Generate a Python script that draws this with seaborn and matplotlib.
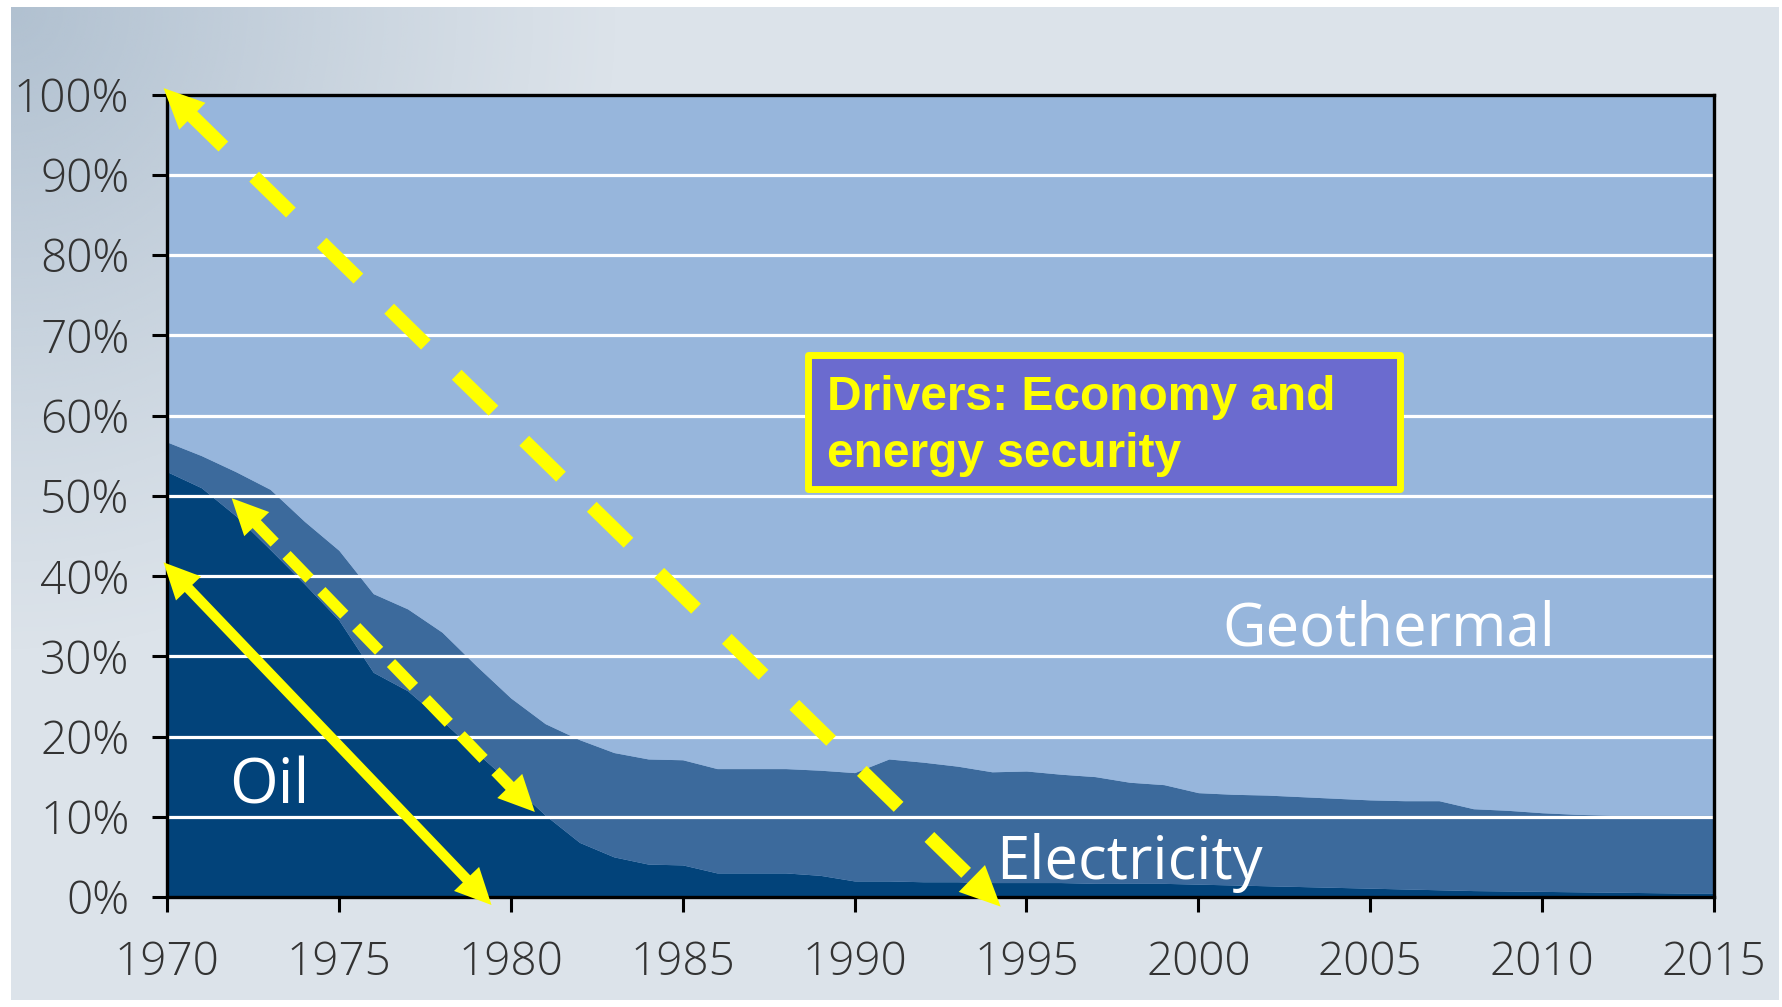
import numpy as np
import pandas as pd
import seaborn as sns
import matplotlib.pyplot as plt
from matplotlib.patches import Rectangle, FancyArrowPatch

# -------------------------------
# DATA (share of heating, %)
# -------------------------------
years = list(range(1970, 2016))
oil = [53, 51, 47.5, 43.3, 39, 34.5, 28, 25.7, 22, 18,
       14.2, 10.2, 6.8, 5, 4.1, 4.0, 3.0, 3.0, 3.0, 2.7,
       2.0, 2.0, 1.9, 1.9, 1.8, 1.8, 1.8, 1.7, 1.7, 1.7,
       1.6, 1.5, 1.4, 1.3, 1.2, 1.1, 1.0, 0.9, 0.8, 0.75,
       0.7, 0.65, 0.6, 0.55, 0.5, 0.5]
electricity = [3.7, 4.0, 5.5, 7.5, 7.8, 8.7, 9.8, 10.2, 11.0, 10.8,
               10.6, 11.4, 12.8, 13.0, 13.1, 13.1, 13.0, 13.0, 13.0, 13.1,
               13.5, 15.2, 14.9, 14.4, 13.8, 13.9, 13.5, 13.3, 12.6, 12.3,
               11.4, 11.3, 11.3, 11.2, 11.1, 11.0, 11.0, 11.1, 10.2, 10.05,
               9.8, 9.65, 9.6, 9.65, 9.7, 9.7]

x_ticks = [1970, 1975, 1980, 1985, 1990, 1995, 2000, 2005, 2010, 2015]
y_ticks = [0, 10, 20, 30, 40, 50, 60, 70, 80, 90, 100]
y_tick_labels = ['0%', '10%', '20%', '30%', '40%', '50%', '60%', '70%', '80%', '90%', '100%']

df = pd.DataFrame({'year': years, 'Oil': oil, 'Electricity': electricity})
df['Geothermal'] = 100 - df['Oil'] - df['Electricity']

# colours
c_oil = '#02437a'
c_elec = '#3c6a9c'
c_geo = '#97b6dc'
c_bg = '#dce3ea'
yellow = '#ffff00'

sns.set_theme(style="white")
plt.rcParams['font.family'] = ['Open Sans', 'DejaVu Sans']

fig = plt.figure(figsize=(17.83, 10.07), dpi=100)
fig.patch.set_facecolor('white')

# page background with faded photo corner
fig.patches.append(Rectangle((11 / 1783, 7 / 1007), 1768 / 1783, 993 / 1007,
                             transform=fig.transFigure, facecolor=c_bg,
                             edgecolor='none', zorder=-10))
bg_ax = fig.add_axes([11 / 1783, 0.35, 0.38, 0.643], zorder=-5)
gx, gy = np.meshgrid(np.linspace(0, 1, 300), np.linspace(0, 1, 300))
fade = np.clip(1 - np.sqrt((gx / 0.9) ** 2 + (gy / 1.0) ** 2), 0, 1) ** 1.1
img = np.zeros((300, 300, 4))
img[..., 0] = 0xa6 / 255
img[..., 1] = 0xb8 / 255
img[..., 2] = 0xca / 255
img[..., 3] = fade * 0.8
bg_ax.imshow(img, aspect='auto', extent=[0, 1, 0, 1], origin='upper')
bg_ax.axis('off')

# -------------------------------
# STACKED AREA
# -------------------------------
ax = fig.add_axes([167 / 1783, 1 - 897 / 1007, (1714 - 167) / 1783, (897 - 94.5) / 1007])
ax.set_facecolor(c_geo)
ax.stackplot(df['year'], df['Oil'], df['Electricity'], df['Geothermal'],
             colors=[c_oil, c_elec, c_geo], linewidth=0, zorder=1)
ax.set_xlim(1970, 2015)
ax.set_ylim(0, 100)

for yv in y_ticks[1:-1]:
    ax.axhline(yv, color='white', lw=2.3, zorder=2)

ax.set_xticks(x_ticks)
ax.set_yticks(y_ticks)
ax.set_yticklabels(y_tick_labels)
ax.tick_params(axis='both', which='major', direction='out', length=11, width=2.2,
               color='black', labelsize=33, labelcolor='#333333', left=True, bottom=True)
ax.tick_params(axis='y', pad=16)
ax.tick_params(axis='x', pad=20)
for lab in ax.get_xticklabels() + ax.get_yticklabels():
    lab.set_fontweight('light')
for s in ax.spines.values():
    s.set_visible(True)
    s.set_color('black')
    s.set_linewidth(2.4)
    s.set_zorder(3)

# -------------------------------
# LABELS
# -------------------------------
ax.text(1971.8, 11.7, 'Oil', color='white', fontsize=45, ha='left', va='baseline', zorder=5)
ax.text(1994.13, 2.3, 'Electricity', color='white', fontsize=43, ha='left', va='baseline', zorder=5)
ax.text(2000.7, 31.3, 'Geothermal', color='white', fontsize=43, ha='left', va='baseline', zorder=5)

# drivers box
ax.add_patch(Rectangle((1988.64, 50.8), 2005.86 - 1988.64, 67.6 - 50.8,
                       facecolor='#6b6bcf', edgecolor=yellow, lw=5, joinstyle='round', zorder=4))
ax.text(1989.2, 60.7, 'Drivers: Economy and', color=yellow, fontsize=34.5, fontweight='bold',
        family=['Liberation Sans', 'DejaVu Sans'], ha='left', va='baseline', zorder=5)
ax.text(1989.2, 53.6, 'energy security', color=yellow, fontsize=34.5, fontweight='bold',
        family=['Liberation Sans', 'DejaVu Sans'], ha='left', va='baseline', zorder=5)


# -------------------------------
# YELLOW ARROWS
# -------------------------------
def double_arrow(p0, p1, lw, ls, head_len, head_w):
    t = ax.transData
    a = t.transform(p0)
    b = t.transform(p1)
    d = b - a
    u = d / np.hypot(*d)
    hl_px = head_len * 100 / 72
    a2 = t.inverted().transform(a + u * hl_px * 0.8)
    b2 = t.inverted().transform(b - u * hl_px * 0.8)
    ax.plot([a2[0], b2[0]], [a2[1], b2[1]], color=yellow, lw=lw, linestyle=ls,
            solid_capstyle='butt', dash_capstyle='butt', clip_on=False, zorder=6)
    arr = FancyArrowPatch(p0, p1, arrowstyle=f'<|-|>,head_length={head_len},head_width={head_w}',
                          mutation_scale=1, shrinkA=0, shrinkB=0, lw=0,
                          facecolor=yellow, edgecolor='none', clip_on=False, zorder=6)
    ax.add_patch(arr)


double_arrow((1969.9, 100.8), (1994.25, -1.2), 10, (0, (3.7, 3.1)), 29, 13.5)
double_arrow((1971.88, 49.7), (1980.7, 10.6), 8.2, (0, (2.9, 1.5)), 26, 12.5)
double_arrow((1969.9, 41.7), (1979.44, -1.0), 7.4, '-', 26, 12.5)

plt.savefig('out.png', dpi=100, facecolor=fig.get_facecolor())
